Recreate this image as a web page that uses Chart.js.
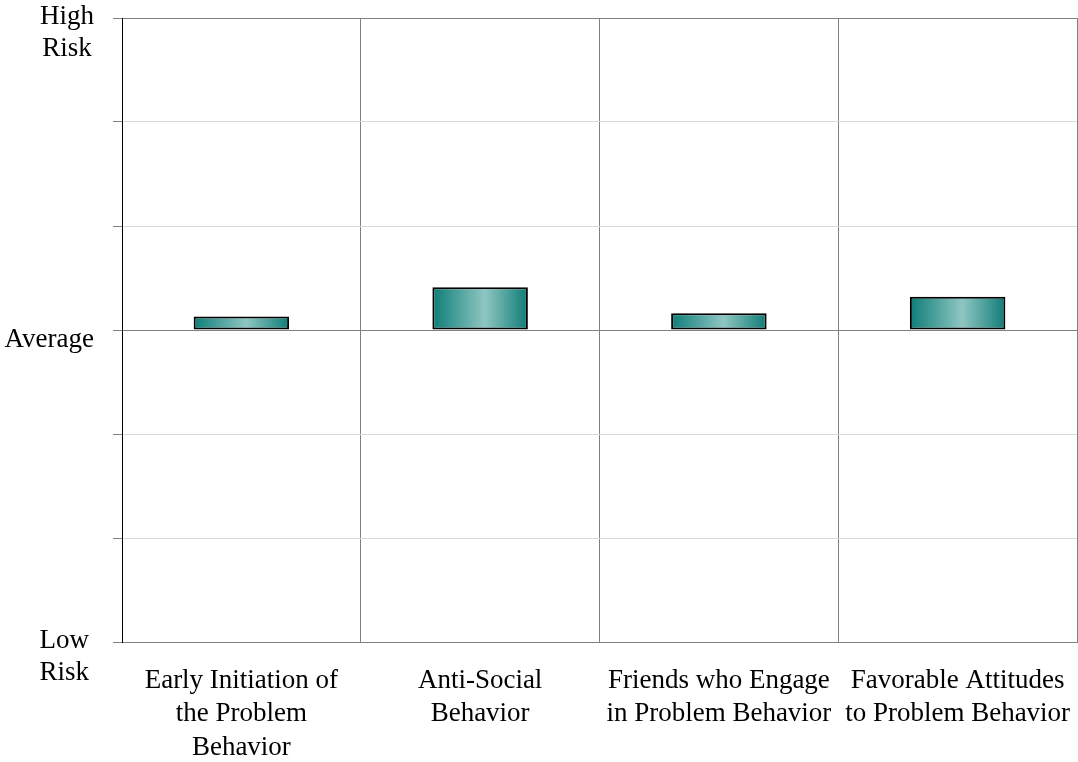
<!DOCTYPE html>
<html>
<head>
<meta charset="utf-8">
<script src="https://cdn.jsdelivr.net/npm/chart.js@4"></script>
<style>
  html, body { margin: 0; padding: 0; background: #fff; }
  #wrap { width: 1078px; height: 762px; }
</style>
</head>
<body>
<div id="wrap"><canvas id="myChart"></canvas></div>
<script>
var categories = [
    ['Early Initiation of', 'the Problem', 'Behavior'],
    ['Anti-Social', 'Behavior'],
    ['Friends who Engage', 'in Problem Behavior'],
    ['Favorable Attitudes', 'to Problem Behavior']
];
var riskScores = [0.13, 0.41, 0.16, 0.32];
var yTickValues = [-3, 0, 3];
var yTickLabels = [['Low', 'Risk'], ['Average'], ['High', 'Risk']];

var serif = "'Liberation Serif', 'Times New Roman', serif";
var barPct = 0.4;

function barGradient(context) {
    var chart = context.chart;
    var xs = chart.scales.x;
    if (!xs || !chart.chartArea) return '#138580';
    var cx = xs.getPixelForValue(context.dataIndex);
    var half = (xs.width / categories.length) * barPct / 2;
    var g = chart.ctx.createLinearGradient(cx - half, 0, cx + half, 0);
    g.addColorStop(0, '#0d7d78');
    g.addColorStop(0.55, '#8fc6c2');
    g.addColorStop(1, '#0f7c77');
    return g;
}

// left-side risk labels, Excel style
var yLabelPlugin = {
    id: 'yLabels',
    afterDraw: function (chart) {
        var ctx = chart.ctx;
        var ys = chart.scales.y;
        ctx.save();
        ctx.font = '27px ' + serif;
        ctx.fillStyle = '#000';
        ctx.textBaseline = 'alphabetic';
        ctx.textAlign = 'center';
        yTickValues.forEach(function (v, i) {
            var lines = yTickLabels[i];
            var py = ys.getPixelForValue(v);
            var maxW = 0;
            lines.forEach(function (l) { maxW = Math.max(maxW, ctx.measureText(l).width); });
            var right = v < 0 ? 89 : 94;
            var dy = lines.length > 1 ? 6 : 17;
            lines.forEach(function (l, j) {
                ctx.fillText(l, right - maxW / 2, py + dy + j * 32);
            });
        });
        ctx.restore();
    }
};

window.myChart = document.getElementById('myChart').getContext('2d');

var riskChart = new Chart(window.myChart, {
    type: 'bar',
    data: {
        labels: categories,
        datasets: [{
            data: riskScores,
            backgroundColor: barGradient,
            borderColor: '#000000',
            borderWidth: 2,
            borderSkipped: false,
            barPercentage: barPct,
            categoryPercentage: 1.0
        }]
    },
    options: {
        responsive: true,
        maintainAspectRatio: false,
        animation: false,
        layout: {
            padding: { top: 18, right: 1, bottom: 0, left: 0 }
        },
        scales: {
            x: {
                position: 'bottom',
                grid: {
                    offset: true,
                    color: '#808080',
                    lineWidth: 1,
                    drawTicks: false
                },
                border: { color: '#808080', width: 1 },
                ticks: {
                    color: '#000',
                    font: { family: serif, size: 27, lineHeight: 1.24 },
                    padding: 22,
                    maxRotation: 0,
                    autoSkip: false
                },
                afterFit: function (scale) {
                    scale.height = 120;
                    scale.paddingLeft = 0;
                    scale.paddingRight = 0;
                }
            },
            y: {
                min: -3,
                max: 3,
                grid: {
                    color: function (c) {
                        var v = c.tick ? c.tick.value : null;
                        return (v === 0 || v === 3 || v === -3) ? '#808080' : '#d9d9d9';
                    },
                    tickColor: '#808080',
                    tickLength: 9,
                    lineWidth: 1
                },
                border: { color: '#000000', width: 1 },
                ticks: {
                    stepSize: 1,
                    display: false
                },
                afterFit: function (scale) { scale.width = 122; }
            }
        },
        plugins: {
            legend: { display: false },
            tooltip: { enabled: false }
        }
    },
    plugins: [yLabelPlugin]
});
</script>
</body>
</html>
